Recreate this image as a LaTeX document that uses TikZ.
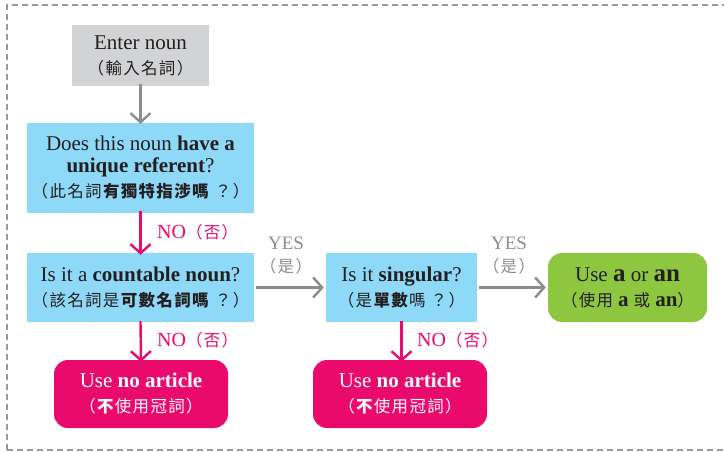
\documentclass[tikz,border=0pt]{standalone}
\usepackage{fontspec}
\setmainfont{Liberation Serif}
\newfontfamily\cjk{Noto Sans CJK TC}[LetterSpace=8]
\usetikzlibrary{arrows.meta}
\definecolor{qblue}{HTML}{8ED8F8}
\definecolor{boxgray}{HTML}{D1D3D4}
\definecolor{hotpink}{HTML}{EA0A6E}
\definecolor{leaf}{HTML}{8DC63F}
\definecolor{arrgray}{HTML}{8C8C8C}
\definecolor{ink}{HTML}{231F20}
\definecolor{framegray}{HTML}{9A9A9A}
\newcommand{\cj}[1]{{\cjk\fontsize{16.5}{23}\selectfont #1}}
\begin{document}
\begin{tikzpicture}[x=1pt,y=-1pt,
  basebox/.style={draw=none,align=center,inner sep=0pt,text=ink,
    font=\fontsize{21}{22}\selectfont},
  qbox/.style={basebox,fill=qblue},
  startbox/.style={basebox,fill=boxgray},
  nobox/.style={basebox,fill=hotpink,text=white,rounded corners=14pt},
  yesbox/.style={basebox,fill=leaf,rounded corners=14pt},
  flow/.style={line width=2.4pt,-{Straight Barb[length=9pt,width=20pt,line width=2.4pt]}},
  noarrow/.style={flow,draw=hotpink},
  yesarrow/.style={flow,draw=arrgray},
  nolabel/.style={text=hotpink,font=\fontsize{20}{22}\selectfont,inner sep=0pt,anchor=west},
  yeslabel/.style={text=arrgray,font=\fontsize{19}{22}\selectfont,inner sep=0pt,align=center}
]
\useasboundingbox (0,0) rectangle (724,452);
\begin{scope}
\clip (0,0) rectangle (724,452);
\draw[framegray,line width=1.1pt,dash pattern=on 6pt off 4pt] (7,450) -- (7,5) -- (740,5);
\draw[framegray,line width=1.1pt,dash pattern=on 6pt off 4pt] (7,450) -- (740,450);
\end{scope}

\node[startbox,minimum width=137pt,minimum height=61pt] (enter) at (140.5,55.5)
  {Enter noun\\[3pt]\cj{（輸入名詞）}};
\node[qbox,minimum width=227pt,minimum height=90pt] (q1) at (140.5,168)
  {Does this noun \textbf{have a}\\\textbf{unique referent}?\\[3pt]\cj{（此名詞\textbf{有獨特指涉嗎} ？）}};
\node[qbox,minimum width=227pt,minimum height=69pt] (q2) at (140.5,287.5)
  {Is it a \textbf{countable noun}?\\[3pt]\cj{（該名詞是\textbf{可數名詞嗎} ？）}};
\node[qbox,minimum width=151pt,minimum height=69pt] (q3) at (401.5,287.5)
  {Is it \textbf{singular}?\\[3pt]\cj{（是\textbf{單數}嗎 ？）}};
\node[nobox,minimum width=174pt,minimum height=68pt] (na1) at (141,394)
  {Use \textbf{no article}\\[3pt]\cj{（\textbf{不}使用冠詞）}};
\node[nobox,minimum width=174pt,minimum height=68pt] (na2) at (400,394)
  {Use \textbf{no article}\\[3pt]\cj{（\textbf{不}使用冠詞）}};
\node[yesbox,minimum width=159pt,minimum height=69pt] (usea) at (627.5,287.5)
  {Use {\fontsize{25}{24}\selectfont\textbf{a}} or {\fontsize{25}{24}\selectfont\textbf{an}}\\[3pt]\cj{（使用 {\rmfamily\bfseries\fontsize{21}{23}\selectfont a} 或 {\rmfamily\bfseries\fontsize{21}{23}\selectfont an}）}};

\draw[yesarrow] ([yshift=2pt]enter.south) -- ([yshift=-1pt]q1.north);
\draw[noarrow] ([yshift=2pt]q1.south) -- ([yshift=-2pt]q2.north);
\draw[noarrow] ([yshift=1pt]q2.south) -- ([yshift=-2pt]na1.north);
\draw[noarrow] ([yshift=1pt]q3.south) -- ([yshift=-2pt]q3.south |- na2.north);
\draw[yesarrow] ([xshift=2pt]q2.east) -- ([xshift=-2pt]q3.west);
\draw[yesarrow] ([xshift=2pt]q3.east) -- ([xshift=-2pt]usea.west);

\node[nolabel] (nl1) at (157,232) {NO\cj{（否）}};
\node[nolabel] (nl2) at (157,340) {NO\cj{（否）}};
\node[nolabel] (nl3) at (417,340) {NO\cj{（否）}};
\node[yeslabel] (yl1) at (286,256) {YES\\[1pt]\cj{（是）}};
\node[yeslabel] (yl2) at (509,256) {YES\\[1pt]\cj{（是）}};
\end{tikzpicture}
\end{document}
